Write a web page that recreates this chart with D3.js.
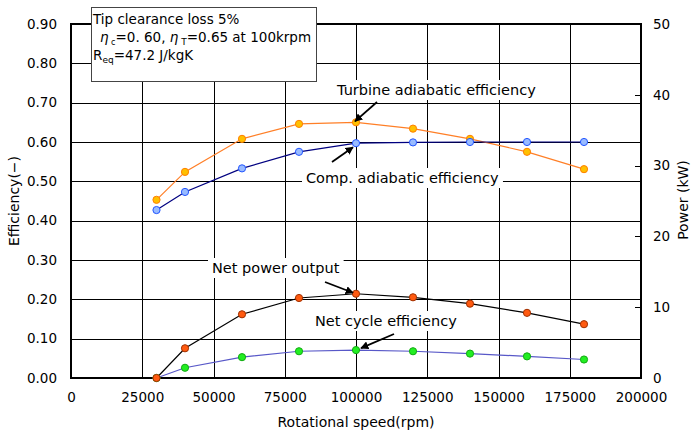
<!DOCTYPE html>
<html>
<head>
<meta charset="utf-8">
<script src="https://cdn.jsdelivr.net/npm/d3@7"></script>
<style>
  html, body { margin: 0; padding: 0; background: #fff; }
  svg { display: block; font-family: "DejaVu Sans", sans-serif; }
</style>
</head>
<body>
<svg id="chart" width="691" height="435"></svg>
<script>
// Rotational speed of each operating point (rpm)
const speed = [30000, 40000, 60000, 80000, 100000, 120000, 140000, 160000, 180000];
// Efficiencies (-), left axis
const turbineEff = [0.453, 0.524, 0.608, 0.646, 0.650, 0.634, 0.608, 0.575, 0.531];
const compEff    = [0.427, 0.473, 0.533, 0.575, 0.597, 0.599, 0.600, 0.600, 0.600];
const cycleEff   = [0.000, 0.026, 0.053, 0.068, 0.071, 0.068, 0.062, 0.055, 0.047];
// Net power output (kW), right axis
const netPower   = [0.0, 4.2, 9.0, 11.3, 11.9, 11.4, 10.5, 9.2, 7.6];

const xTicks = [0, 25000, 50000, 75000, 100000, 125000, 150000, 175000, 200000];
const effTicks = [0, 0.1, 0.2, 0.3, 0.4, 0.5, 0.6, 0.7, 0.8, 0.9];
const powerTicks = [0, 10, 20, 30, 40, 50];

const svg = d3.select("#chart");
const L = 71, R = 641, T = 24, B = 378;

const x = d3.scaleLinear().domain([0, 200000]).range([L, R]);
const yEff = d3.scaleLinear().domain([0, 0.9]).range([B, T]);
const yPow = d3.scaleLinear().domain([0, 50]).range([B, T]);

// Grid lines
const grid = svg.append("g");
grid.append("g")
  .attr("transform", `translate(0,${B})`)
  .call(d3.axisBottom(x).tickValues(xTicks).tickSize(-(B - T)).tickFormat(""))
  .call(g => g.select(".domain").remove())
  .call(g => g.selectAll("line").attr("stroke", "#000").attr("stroke-width", 1).attr("shape-rendering", "crispEdges"));
grid.append("g")
  .attr("transform", `translate(${L},0)`)
  .call(d3.axisLeft(yEff).tickValues(effTicks).tickSize(-(R - L)).tickFormat(""))
  .call(g => g.select(".domain").remove())
  .call(g => g.selectAll("line").attr("stroke", "#000").attr("stroke-width", 1).attr("shape-rendering", "crispEdges"));

// Plot frame
svg.append("rect")
  .attr("x", L).attr("y", T).attr("width", R - L).attr("height", B - T)
  .attr("fill", "none").attr("stroke", "#000").attr("stroke-width", 1.3)
  .attr("shape-rendering", "crispEdges");
svg.append("line")
  .attr("x1", L).attr("x2", R).attr("y1", B).attr("y2", B)
  .attr("stroke", "#000").attr("stroke-width", 2);

// Axes (labels)
const fontTick = "13.5px";
const ax = svg.append("g").attr("transform", `translate(0,${B})`)
  .call(d3.axisBottom(x).tickValues(xTicks).tickSize(0).tickPadding(14).tickFormat(d3.format("d")));
ax.select(".domain").remove();
ax.selectAll("text").attr("font-size", fontTick).attr("font-family", "DejaVu Sans").attr("fill", "#000");

const ayl = svg.append("g").attr("transform", `translate(${L},0)`)
  .call(d3.axisLeft(yEff).tickValues(effTicks).tickSize(0).tickPadding(14).tickFormat(d3.format(".2f")));
ayl.select(".domain").remove();
ayl.selectAll("text").attr("font-size", fontTick).attr("font-family", "DejaVu Sans").attr("fill", "#000");

const ayr = svg.append("g").attr("transform", `translate(${R},0)`)
  .call(d3.axisLeft(yPow).tickValues(powerTicks).tickSize(6).tickFormat(""));
ayr.select(".domain").remove();
ayr.selectAll("line").attr("stroke", "#000").attr("shape-rendering", "crispEdges");
const ayr2 = svg.append("g").attr("transform", `translate(${R},0)`)
  .call(d3.axisRight(yPow).tickValues(powerTicks).tickSize(0).tickPadding(12).tickFormat(d3.format("d")));
ayr2.select(".domain").remove();
ayr2.selectAll("text").attr("font-size", fontTick).attr("font-family", "DejaVu Sans").attr("fill", "#000");

// Axis titles
svg.append("text").attr("x", 356).attr("y", 427).attr("text-anchor", "middle")
  .attr("font-size", "14px").text("Rotational speed(rpm)");
svg.append("text").attr("transform", "translate(19,201) rotate(-90)").attr("text-anchor", "middle")
  .attr("font-size", "14px").text("Efficiency(−)");
svg.append("text").attr("transform", "translate(688,200) rotate(-90)").attr("text-anchor", "middle")
  .attr("font-size", "14px").text("Power (kW)");

// Annotation labels (white background over the grid)
const labels = svg.append("g");
function label(text, tx, ty) {
  const g = labels.append("g");
  const bg = g.append("rect").attr("fill", "#fff");
  const t = g.append("text").attr("x", tx).attr("y", ty).attr("font-size", "14.5px")
    .attr("dominant-baseline", "central").text(text);
  const bb = t.node().getBBox();
  bg.attr("x", bb.x - 4).attr("y", bb.y - 2).attr("width", bb.width + 8).attr("height", bb.height + 4);
}
label("Turbine adiabatic efficiency", 337, 90);
label("Comp. adiabatic efficiency", 306, 178);
label("Net power output", 212, 268);
label("Net cycle efficiency", 315, 321);

// Series
const series = [
  { values: turbineEff, y: yEff, line: "#FF7F27", fill: "#FFC000", stroke: "#FF7F00" },
  { values: compEff,    y: yEff, line: "#000080", fill: "#99BBFF", stroke: "#2255FF" },
  { values: cycleEff,   y: yEff, line: "#5858C8", fill: "#22EE22", stroke: "#11AA11" },
  { values: netPower,   y: yPow, line: "#000000", fill: "#FF5A10", stroke: "#A03000" }
];

series.forEach(s => {
  const pts = speed.map((v, i) => [v, s.values[i]]);
  const line = d3.line().x(d => x(d[0])).y(d => s.y(d[1]));
  svg.append("path").datum(pts).attr("d", line)
    .attr("fill", "none").attr("stroke", s.line).attr("stroke-width", 1.2);
});
series.forEach(s => {
  const pts = speed.map((v, i) => [v, s.values[i]]);
  svg.append("g").selectAll("circle").data(pts).join("circle")
    .attr("cx", d => x(d[0])).attr("cy", d => s.y(d[1])).attr("r", 3.6)
    .attr("fill", s.fill).attr("stroke", s.stroke).attr("stroke-width", 1);
});

// Arrows pointing at the 100 krpm points
svg.append("defs").append("marker")
  .attr("id", "arrow").attr("viewBox", "0 0 10 10").attr("refX", 9).attr("refY", 5)
  .attr("markerWidth", 4.5).attr("markerHeight", 4.5).attr("orient", "auto")
  .append("path").attr("d", "M0,0 L10,5 L0,10 z").attr("fill", "#000");

function arrow(x1, y1, px, py, dx, dy) {
  svg.append("line").attr("x1", x1).attr("y1", y1)
    .attr("x2", px + dx).attr("y2", py + dy)
    .attr("stroke", "#000").attr("stroke-width", 1.8).attr("marker-end", "url(#arrow)");
}
arrow(377, 102, x(speed[4]), yEff(turbineEff[4]), -1, -1);
arrow(332, 162, x(speed[4]), yEff(compEff[4]), -3, 4);
arrow(325, 282, x(speed[4]), yPow(netPower[4]), -3, -1);
arrow(394, 334, x(speed[4]), yEff(cycleEff[4]), 5, -2);

// Info box
const box = svg.append("g");
box.append("rect").attr("x", 91.5).attr("y", 7.5).attr("width", 225).attr("height", 74)
  .attr("fill", "#fff").attr("stroke", "#444").attr("stroke-width", 1);
const fs = "13.5px";
box.append("text").attr("x", 93).attr("y", 24).attr("font-size", fs).text("Tip clearance loss 5%");
const l2 = box.append("text").attr("x", 100).attr("y", 42).attr("font-size", fs);
l2.append("tspan").attr("font-style", "italic").text("η");
l2.append("tspan").attr("font-size", "8px").attr("dy", 3).text(" c");
l2.append("tspan").attr("dy", -3).text("=0. 60, ");
l2.append("tspan").attr("font-style", "italic").text("η");
l2.append("tspan").attr("font-size", "9px").attr("dy", 3).text(" T");
l2.append("tspan").attr("dy", -3).text("=0.65 at 100krpm");
const l3 = box.append("text").attr("x", 93).attr("y", 60).attr("font-size", fs);
l3.append("tspan").text("R");
l3.append("tspan").attr("font-size", "9px").attr("dy", 3).text("eq");
l3.append("tspan").attr("dy", -3).text("=47.2 J/kgK");
</script>
</body>
</html>
